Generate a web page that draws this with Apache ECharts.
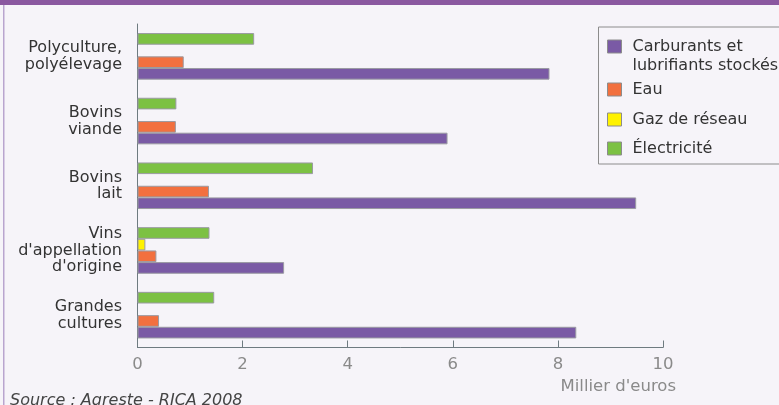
<!DOCTYPE html>
<html>
<head>
<meta charset="utf-8">
<script src="https://cdn.jsdelivr.net/npm/echarts@6/dist/echarts.min.js"></script>
<style>
html,body{margin:0;padding:0;background:#f6f4f9;}
#c{width:779px;height:405px;}
</style>
</head>
<body>
<div id="c"></div>
<script>
const categories = ['Grandes\ncultures', "Vins\nd'appellation\nd'origine", 'Bovins\nlait', 'Bovins\nviande', 'Polyculture,\npolyélevage'];
const carburants = [8.35, 2.79, 9.49, 5.90, 7.84];
const eau = [0.41, 0.36, 1.36, 0.73, 0.88];
const gaz = [null, 0.15, null, null, null];
const electricite = [1.46, 1.37, 3.34, 0.74, 2.22];
const seriesNames = ['Carburants et lubrifiants stockés', 'Eau', 'Gaz de réseau', 'Électricité'];
const xTicks = [0, 2, 4, 6, 8, 10];
const axisName = "Millier d'euros";
const sourceText = 'Source : Agreste - RICA 2008';

const colors = ['#7a5aa5', '#f2703f', '#fff200', '#7cc143'];
const FONT = 'DejaVu Sans';
const chart = echarts.init(document.getElementById('c'));

function legendFor(i, top, extra) {
  return Object.assign({
    data: [seriesNames[i]],
    left: 607,
    top: top,
    padding: 0,
    orient: 'vertical',
    icon: 'rect',
    itemWidth: 14,
    itemHeight: 13,
    selectedMode: false,
    itemStyle: { borderColor: '#8c8c8c', borderWidth: 1 },
    textStyle: { fontFamily: FONT, fontSize: 16, color: '#333', lineHeight: 20, padding: [0, 0, 0, 6] }
  }, extra || {});
}

const bs = (name, data, i) => ({
  name: name,
  type: 'bar',
  data: data,
  barGap: '0%',
  barCategoryGap: '28%',
  itemStyle: { color: colors[i], borderColor: '#9a9aa2', borderWidth: 1 },
  emphasis: { disabled: true }
});

chart.setOption({
  backgroundColor: '#f6f4f9',
  animation: false,
  grid: { left: 137.5, right: 116, top: 24, bottom: 57.5, containLabel: false },
  xAxis: {
    type: 'value',
    min: 0, max: 10, interval: 2,
    name: axisName,
    nameLocation: 'end',
    nameGap: 13,
    nameTextStyle: { fontFamily: FONT, fontSize: 16.5, color: '#8a8a8a', align: 'right', verticalAlign: 'top', padding: [31, 0, 0, 0] },
    axisLine: { show: true, lineStyle: { color: '#6e7b80', width: 1 } },
    axisTick: { show: true, inside: true, length: 7, lineStyle: { color: '#6e7b80' } },
    axisLabel: { fontFamily: FONT, fontSize: 16.5, color: '#8a8a8a', margin: 9,
      formatter: v => xTicks.includes(v) ? String(v) : '' },
    splitLine: { show: false }
  },
  yAxis: {
    type: 'category',
    data: categories,
    axisLine: { show: true, lineStyle: { color: '#6e7b80', width: 1 } },
    axisTick: { show: false },
    axisLabel: { fontFamily: FONT, fontSize: 16, color: '#333', lineHeight: 16.7, margin: 15.5, padding: [0, 0, 6, 0] },
    splitLine: { show: false }
  },
  legend: [
    legendFor(0, 18, { formatter: () => '\nCarburants et\nlubrifiants stockés', textStyle: { fontFamily: FONT, fontSize: 16, color: '#333', lineHeight: 19, padding: [0, 0, 0, 6] } }),
    legendFor(1, 79.5),
    legendFor(2, 109.5),
    legendFor(3, 138.5)
  ],
  graphic: [
    { type: 'rect', shape: { x: 0, y: 0, width: 779, height: 5 }, style: { fill: '#8a58a0' }, silent: true },
    { type: 'rect', shape: { x: 3, y: 5, width: 1.5, height: 400 }, style: { fill: '#b9a5cf' }, silent: true },
    { type: 'rect', shape: { x: 598.5, y: 27, width: 200, height: 137 }, style: { fill: 'none', stroke: '#8c8c8c', lineWidth: 1 }, silent: true },
    { type: 'text', left: 10, top: 393, style: { text: sourceText, font: 'italic 16px "DejaVu Sans"', fill: '#444' }, silent: true }
  ],
  series: [
    bs(seriesNames[3], electricite, 3),
    bs(seriesNames[2], gaz, 2),
    bs(seriesNames[1], eau, 1),
    bs(seriesNames[0], carburants, 0)
  ]
});
</script>
</body>
</html>
